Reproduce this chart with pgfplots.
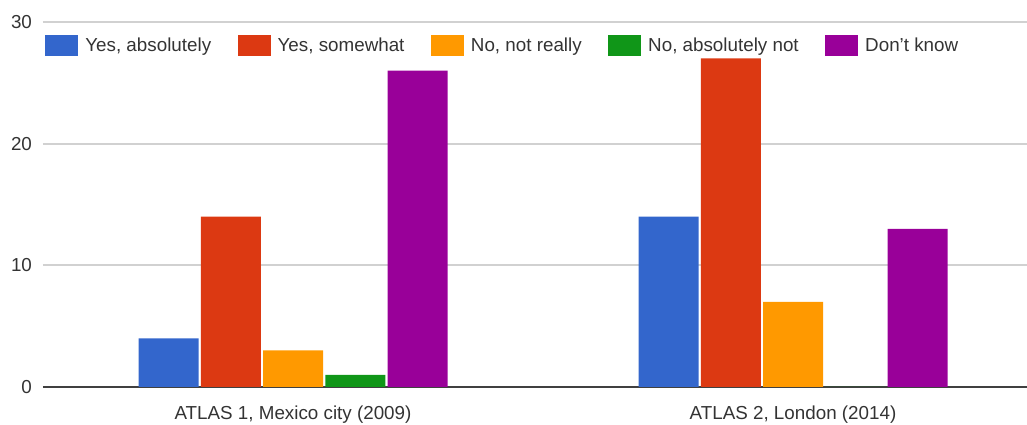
\documentclass[border=0pt]{standalone}
\usepackage{fontspec}
\setmainfont{Liberation Sans}
\usepackage{pgfplots}
\pgfplotsset{compat=1.18}
\definecolor{cA}{HTML}{3366CC}
\definecolor{cB}{HTML}{DC3912}
\definecolor{cC}{HTML}{FF9900}
\definecolor{cD}{HTML}{109618}
\definecolor{cE}{HTML}{990099}
\begin{document}
\begin{tikzpicture}
\begin{axis}[
  scale only axis, width=492pt, height=182.5pt,
  xmin=-0.5, xmax=1.468, ymin=0, ymax=30,
  axis line style={draw=none},
  tick style={draw=none},
  ytick={10,20,30},
  extra y ticks={0},
  extra y tick style={grid style={color=black!75, line width=1.1pt}},
  ymajorgrids,
  grid style={color=black!18, line width=0.9pt},
  xtick={0,1},
  xticklabels={{ATLAS 1, Mexico city (2009)},{ATLAS 2, London (2014)}},
  xticklabel style={yshift=-1.8pt},
  yticklabel style={xshift=-2pt},
  ticklabel style={font=\fontsize{9.4}{11}\selectfont, color=black!80},
  /pgf/number format/assume math mode=true,
  ybar, bar width=0.12,
  legend style={at={(rel axis cs:0,1)}, anchor=north west, xshift=1pt, yshift=-5.5pt,
    draw=none, fill=none, inner sep=0pt,
    font=\fontsize{9.4}{11}\selectfont, text=black!80,
    /tikz/every odd column/.append style={column sep=1.5pt},
    /tikz/every even column/.append style={column sep=11.25pt}},
  legend columns=5,
  legend image code/.code={\fill[#1] (0pt,-5.25pt) rectangle (16.5pt,5.25pt);},
]
\addplot[fill=cA, draw=none, bar shift=-0.249] coordinates {(0,4) (1,14)};
\addplot[fill=cB, draw=none, bar shift=-0.1245] coordinates {(0,14) (1,27)};
\addplot[fill=cC, draw=none, bar shift=0] coordinates {(0,3) (1,7)};
\addplot[fill=cD, draw=none, bar shift=0.1245] coordinates {(0,1) (1,0)};
\addplot[fill=cE, draw=none, bar shift=0.249] coordinates {(0,26) (1,13)};
\legend{{Yes, absolutely}, {Yes, somewhat}, {No, not really}, {No, absolutely not}, {Don't know}}
\coordinate (bl) at (rel axis cs:0,0);
\coordinate (tr) at (rel axis cs:1,1);
\end{axis}
\pgfresetboundingbox
\path ([xshift=-21.5pt,yshift=-19pt]bl) rectangle ([yshift=11pt]tr);
\end{tikzpicture}
\end{document}
